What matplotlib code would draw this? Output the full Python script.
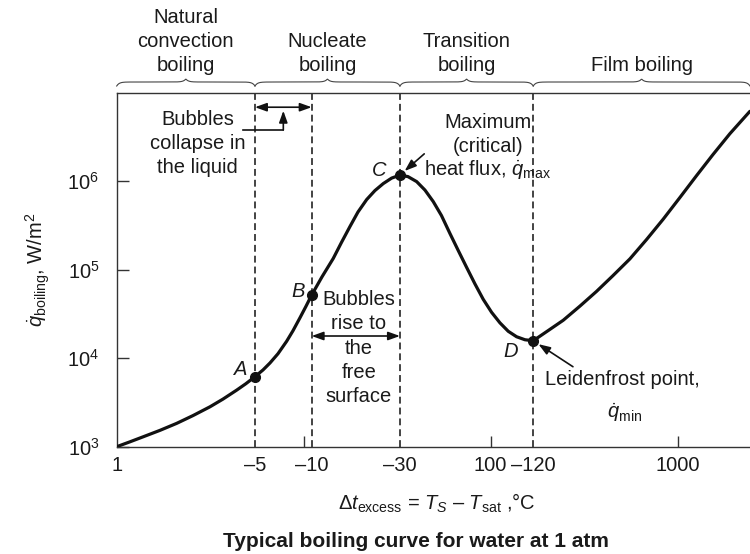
import numpy as np
import matplotlib
matplotlib.use('Agg')
import matplotlib.pyplot as plt
import matplotlib.transforms as mtransforms
from matplotlib.ticker import FixedLocator, FixedFormatter, NullFormatter, NullLocator

plt.rcParams['font.family'] = ['Liberation Sans', 'DejaVu Sans']
plt.rcParams['mathtext.fontset'] = 'custom'
plt.rcParams['mathtext.rm'] = 'Liberation Sans'
plt.rcParams['mathtext.it'] = 'Liberation Sans:italic'
plt.rcParams['mathtext.bf'] = 'Liberation Sans:bold'

# boiling curve: excess temperature (°C) and heat flux (W/m^2)
dt_excess = [1.0, 1.178, 1.388, 1.705, 2.094, 2.559, 3.155, 3.702, 4.383, 4.914,
             5.490, 6.059, 6.604, 7.289, 8.111, 8.766, 9.555, 10.29, 11.035,
             12.53, 14.40, 15.93, 17.69, 19.52, 21.73, 24.06, 26.65, 29.55, 32.73,
             36.13, 40.21, 44.54, 49.32, 54.58, 60.59, 67.09, 74.41, 82.43, 91.30,
             101.2, 112.1, 124.2, 137.7, 152.6, 169.0,
             202.5, 244.5, 300.4, 368.8, 450.9, 555.7, 682.9, 837.5, 1028.7,
             1263.7, 1544.9, 1904.4, 2436]
q_flux = [1000, 1136, 1296, 1531, 1836, 2247, 2825, 3450, 4359, 5159,
          6185, 7361, 8829, 11239, 15545, 20420, 28620, 38570, 51713,
          82950, 134100, 203200, 307700, 448400, 620300, 783700, 939700, 1.0838e6, 1.1717e6,
          1.127e6, 989700, 793900, 588900, 409400, 256700, 165100, 106200, 69170, 46270,
          33010, 25130, 20160, 17477, 16164, 15750,
          20420, 26820, 38770, 56940, 85570, 132400, 219600, 371900, 653400,
          1.1566e6, 1.9948e6, 3.4405e6, 6.154e6]

# marked points A-D
point_names = ['A', 'B', 'C', 'D']
point_dt = [5.490, 11.035, 32.73, 169.0]
point_q = [6185, 51713, 1.1717e6, 15750]

x_tick_labels = ['1', '\u20135', '\u201310', '\u201330', '100', '\u2013120', '1000']
y_ticks = [1e3, 1e4, 1e5, 1e6]
regions = ['Natural\nconvection\nboiling', 'Nucleate\nboiling', 'Transition\nboiling', 'Film boiling']

xmin, xmax = 1, 2440
ymin, ymax = 1e3, 1e7

fig = plt.figure(figsize=(7.5, 5.54), dpi=100)
ax = fig.add_axes([116.7 / 750, 107.3 / 554, 633.3 / 750, 354 / 554])
ax.set_xscale('log')
ax.set_yscale('log')
ax.set_xlim(xmin, xmax)
ax.set_ylim(ymin, ymax)

ax.plot(dt_excess, q_flux, color='#111111', lw=2.3, solid_joinstyle='round',
        solid_capstyle='round', zorder=3)
ax.plot(point_dt, point_q, 'o', color='#111111', ms=7, zorder=4)

for x in point_dt:
    ax.axvline(x, color='#111111', lw=1.1, ls=(0, (4.5, 2.6)), zorder=2)

# spines / ticks
ax.spines['right'].set_visible(False)
for s in ['left', 'bottom', 'top']:
    ax.spines[s].set_linewidth(1.0)
    ax.spines[s].set_color('#333333')

xA, xB, xC, xD = point_dt
ax.xaxis.remove_overlapping_locs = False
ax.xaxis.set_major_locator(FixedLocator([1, xA, xB, xC, 100, xD, 1000]))
ax.xaxis.set_major_formatter(FixedFormatter(x_tick_labels))
ax.xaxis.set_minor_locator(FixedLocator([10, 100, 1000]))
ax.xaxis.set_minor_formatter(NullFormatter())
ax.tick_params(axis='x', which='major', length=0, pad=7, labelsize=14.5, colors='#1a1a1a')
ax.tick_params(axis='x', which='minor', direction='in', length=8, width=1, color='#333333')

ax.yaxis.set_major_locator(FixedLocator(y_ticks))
ax.yaxis.set_minor_locator(NullLocator())
ax.tick_params(axis='y', which='major', direction='in', length=8.5, width=1, color='#333333',
               pad=12.5, labelsize=14.5, labelcolor='#1a1a1a')

# curly braces over the regimes
blend = mtransforms.blended_transform_factory(ax.transData, ax.transAxes)
ax_w = fig.get_figwidth() * fig.dpi * ax.get_position().width
ax_h = fig.get_figheight() * fig.dpi * ax.get_position().height
lspan = np.log10(xmax) - np.log10(xmin)
bounds = [xmin, xA, xC, xD, xmax]
for i, name in enumerate(regions):
    x0, x1 = bounds[i], bounds[i + 1]
    W = (np.log10(x1) - np.log10(x0)) / lspan * ax_w
    s = np.linspace(0, W, 400)
    e = np.minimum(s, W - s)
    up = 10.7 - 4.0 * np.exp(-e / 2.5) + 3.0 * np.exp(-np.abs(s - W / 2) / 2.5)
    xs = 10 ** (np.log10(x0) + s / W * (np.log10(x1) - np.log10(x0)))
    ax.plot(xs, 1 + up / ax_h, transform=blend, color='#444444', lw=0.8, clip_on=False)
    ax.text(np.sqrt(x0 * x1), 1.049, name, transform=blend, ha='center', va='bottom',
            fontsize=14.5, linespacing=1.35, color='#1a1a1a')

# point letters
offsets = [(-5.8, 1.0), (-4.8, -1.4), (-9.4, -0.4), (-11.0, -11.5)]
for name, x, y, off in zip(point_names, point_dt, point_q, offsets):
    ax.annotate(name, (x, y), xytext=off, textcoords='offset points', ha='right',
                va='baseline', fontsize=14.5, style='italic', color='#1a1a1a')

arrow = dict(arrowstyle='-|>,head_length=0.5,head_width=0.18', color='#111111', lw=1.2,
             mutation_scale=14, shrinkA=0, shrinkB=0)
darrow = dict(arrowstyle='<|-|>,head_length=0.5,head_width=0.18', color='#111111', lw=1.2,
              mutation_scale=14, shrinkA=0, shrinkB=0)

# bubbles collapse in the liquid
ax.text(0.1276, 0.773, 'Bubbles\ncollapse in\nthe liquid', transform=ax.transAxes, ha='center',
        va='baseline', fontsize=14.5, linespacing=1.35, color='#1a1a1a')
ax.annotate('', xy=(xB, 0.959), xytext=(xA, 0.959), xycoords=blend, textcoords=blend,
            arrowprops=darrow)
x_mid = np.sqrt(xA * xB)
ax.plot([xA / 1.163, x_mid], [0.8946, 0.8946], transform=blend, color='#111111', lw=1.2)
ax.annotate('', xy=(x_mid, 0.949), xytext=(x_mid, 0.8946), xycoords=blend, textcoords=blend,
            arrowprops=arrow)

# bubbles rise to the free surface
ax.text(np.sqrt(xB * xC) * 1.04, 0.126, 'Bubbles\nrise to\nthe\nfree\nsurface', transform=blend,
        ha='center', va='baseline', fontsize=14.5, linespacing=1.35, color='#1a1a1a')
ax.annotate('', xy=(xC, 0.3127), xytext=(xB, 0.3127), xycoords=blend, textcoords=blend,
            arrowprops=darrow)

# maximum heat flux
ax.text(0.586, 0.832, 'Maximum\n(critical)', transform=ax.transAxes, ha='center', va='baseline',
        fontsize=14.5, linespacing=1.35, color='#1a1a1a')
ax.text(0.586, 0.767, r'heat flux, $\dot{q}_{\mathrm{max}}$', transform=ax.transAxes, ha='center',
        va='baseline', fontsize=14.5, color='#1a1a1a')
ax.annotate('', xy=(xC, point_q[2]), xytext=(17.5, 15.3), textcoords='offset points',
            arrowprops=dict(arrow, shrinkB=4.5))

# Leidenfrost point
ax.text(0.6763, 0.174, 'Leidenfrost point,', transform=ax.transAxes, ha='left', va='baseline',
        fontsize=14.5, color='#1a1a1a')
ax.text(0.8026, 0.081, r'$\dot{q}_{\mathrm{min}}$', transform=ax.transAxes, ha='center',
        va='baseline', fontsize=14.5, color='#1a1a1a')
ax.annotate('', xy=(xD, point_q[3]), xytext=(28.6, -18.7), textcoords='offset points',
            arrowprops=dict(arrow, shrinkB=4.5))

# axis labels and caption
fig.text(38 / 750, 1 - 270 / 554, r'$\dot{q}_{\mathrm{boiling}}$, W/m$^2$', rotation=90,
         ha='center', va='center', fontsize=14.5, color='#1a1a1a')
fig.text(436.7 / 750, 1 - 510 / 554,
         r'$\Delta t_{\mathrm{excess}}$ = $T_S$ – $T_{\mathrm{sat}}$ ,°C',
         ha='center', va='baseline', fontsize=14.5, color='#1a1a1a')
fig.text(416 / 750, 1 - 546.7 / 554, 'Typical boiling curve for water at 1 atm',
         ha='center', va='baseline', fontsize=15, fontweight='bold', color='#1a1a1a')

fig.savefig('out.png', dpi=100)
